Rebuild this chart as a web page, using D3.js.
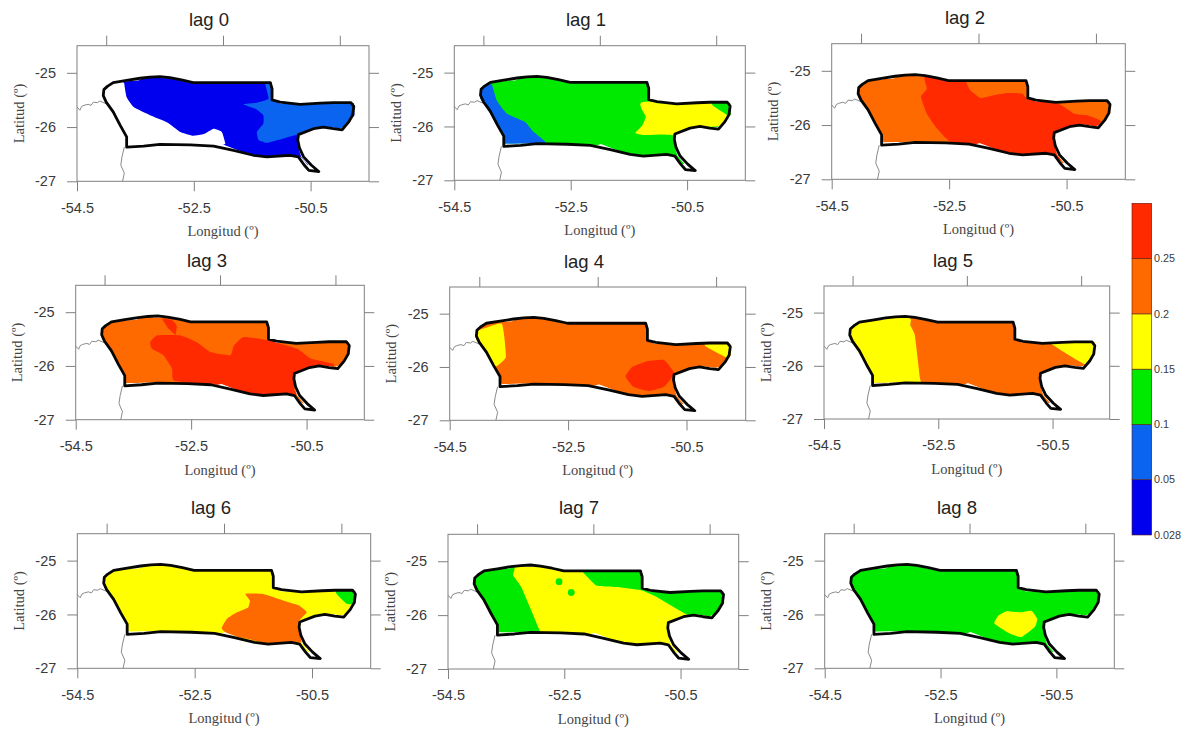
<!DOCTYPE html>
<html>
<head>
<meta charset="utf-8">
<script src="https://cdn.jsdelivr.net/npm/d3@7"></script>
<style>
  body { margin: 0; background: #fff; }
  svg { display: block; }
</style>
</head>
<body>
<div id="chart"></div>
<script>
// tick values
const lonTicks = [-54.5, -52.5, -50.5];
const lonTopTicks = [-54, -52, -50];
const latTicks = [-25, -26, -27];
const lags = ["lag 0", "lag 1", "lag 2", "lag 3", "lag 4", "lag 5", "lag 6", "lag 7", "lag 8"];

// colour classes
const breaks = [0.05, 0.1, 0.15, 0.2, 0.25];
const legendLabels = ["0.028", "0.05", "0.1", "0.15", "0.2", "0.25", ""];
const bandColors = ["#0000ee", "#0a64f0", "#00ea00", "#ffff00", "#ff6a00", "#ff2a00"];

// study area outline, lon / lat
const outline = [[-54.04,-25.31],[-53.98,-25.25],[-53.88,-25.18],[-53.65,-25.14],[-53.42,-25.10],[-53.25,-25.08],[-53.08,-25.07],[-52.91,-25.09],[-52.71,-25.13],[-52.51,-25.18],[-51.65,-25.18],[-51.19,-25.18],[-51.16,-25.29],[-51.16,-25.50],[-51.02,-25.54],[-50.68,-25.58],[-50.33,-25.56],[-50.11,-25.55],[-49.81,-25.55],[-49.76,-25.62],[-49.78,-25.78],[-49.85,-25.91],[-49.96,-26.05],[-50.11,-26.03],[-50.28,-26.00],[-50.45,-26.03],[-50.71,-26.14],[-50.72,-26.24],[-50.69,-26.39],[-50.62,-26.55],[-50.49,-26.70],[-50.36,-26.82],[-50.53,-26.80],[-50.61,-26.70],[-50.71,-26.55],[-50.85,-26.52],[-51.25,-26.55],[-51.48,-26.52],[-51.82,-26.43],[-52.16,-26.35],[-52.56,-26.33],[-53.08,-26.32],[-53.36,-26.35],[-53.65,-26.37],[-53.65,-26.18],[-53.76,-25.97],[-53.88,-25.72],[-54.00,-25.54],[-54.05,-25.42]];

// area the interpolated surface actually covers
const surface = [[-54.05,-25.33],[-53.92,-25.19],[-53.60,-25.15],[-53.45,-25.14],[-53.35,-25.09],[-52.88,-25.10],[-52.59,-25.18],[-51.17,-25.18],[-51.17,-25.48],[-51.03,-25.57],[-50.09,-25.56],[-49.76,-25.56],[-49.75,-25.78],[-49.91,-25.98],[-50.00,-26.02],[-50.20,-25.99],[-50.49,-26.03],[-50.69,-26.13],[-50.71,-26.38],[-50.66,-26.55],[-50.54,-26.70],[-50.58,-26.70],[-50.71,-26.53],[-51.24,-26.55],[-51.58,-26.49],[-51.64,-26.47],[-51.98,-26.33],[-52.04,-26.35],[-52.56,-26.33],[-53.11,-26.31],[-53.63,-26.32],[-53.64,-26.16],[-53.78,-25.95],[-53.95,-25.64],[-54.05,-25.49]];

// thin grey state borders
const borderWest = [[-54.5,-25.63],[-54.45,-25.69],[-54.42,-25.62],[-54.38,-25.60],[-54.31,-25.58],[-54.26,-25.60],[-54.22,-25.54],[-54.15,-25.55],[-54.11,-25.52],[-54.0,-25.57]];
const borderSouth = [[-53.69,-26.37],[-53.73,-26.55],[-53.75,-26.70],[-53.69,-26.85],[-53.72,-27]];

// class polygons per lag: [value, points]
const lag0Base = null;
const lag0Regions = [
  [0.04, [[-53.69,-25.20],[-53.65,-25.45],[-53.53,-25.63],[-53.25,-25.78],[-52.96,-25.91],[-52.73,-26.09],[-52.51,-26.16],[-52.33,-26.13],[-52.16,-26.03],[-52.02,-26.09],[-51.96,-26.30],[-51.99,-26.33],[-51.76,-26.43],[-51.53,-26.49],[-51.25,-26.58],[-50.68,-26.55],[-50.45,-26.79],[-49.65,-26.73],[-49.65,-25.08],[-53.69,-24.90]]],
  [0.07, [[-51.28,-25.14],[-51.28,-25.20],[-51.22,-25.48],[-51.42,-25.55],[-51.65,-25.58],[-51.56,-25.62],[-51.45,-25.66],[-51.31,-25.78],[-51.31,-25.94],[-51.42,-26.09],[-51.39,-26.24],[-51.25,-26.29],[-50.96,-26.21],[-50.73,-26.15],[-49.65,-26.24],[-49.65,-25.20],[-51.08,-25.14]]]
];
const lag1Base = 0.12;
const lag1Regions = [
  [0.07, [[-54.00,-25.27],[-53.86,-25.21],[-53.77,-25.52],[-53.60,-25.76],[-53.28,-25.92],[-53.14,-26.10],[-52.93,-26.30],[-53.14,-26.38],[-53.71,-26.38],[-54.11,-25.52],[-54.11,-25.27]]],
  [0.17, [[-51.27,-25.55],[-51.21,-25.82],[-51.27,-25.98],[-51.39,-26.12],[-51.24,-26.16],[-50.95,-26.15],[-50.72,-26.16],[-50.43,-26.04],[-49.68,-25.95],[-49.68,-25.52]]],
  [0.12, [[-50.06,-25.61],[-49.80,-25.79],[-49.68,-25.79],[-49.68,-25.52],[-50.06,-25.52]]]
];
const lag2Base = 0.22;
const lag2Regions = [
  [0.27, [[-52.91,-25.09],[-52.88,-25.33],[-52.98,-25.48],[-52.88,-25.79],[-52.71,-26.06],[-52.48,-26.31],[-51.97,-26.46],[-50.72,-26.65],[-50.60,-26.65],[-50.69,-26.16],[-50.03,-26.06],[-49.92,-25.92],[-50.15,-25.82],[-50.37,-25.79],[-50.63,-25.61],[-51.14,-25.54],[-51.26,-25.42],[-51.51,-25.41],[-51.74,-25.45],[-51.97,-25.50],[-52.14,-25.36],[-52.22,-25.18],[-52.22,-25.09]]]
];
const lag3Base = 0.22;
const lag3Regions = [
  [0.27, [[-53.21,-25.56],[-53.09,-25.43],[-52.69,-25.43],[-52.40,-25.56],[-52.17,-25.74],[-51.82,-25.80],[-51.76,-25.62],[-51.59,-25.46],[-51.18,-25.52],[-50.66,-25.68],[-50.43,-25.86],[-50.03,-25.96],[-50.08,-26.06],[-50.69,-26.14],[-50.72,-26.42],[-50.69,-26.54],[-51.18,-26.60],[-51.76,-26.48],[-52.22,-26.36],[-52.80,-26.27],[-52.83,-26.05],[-52.98,-25.80],[-53.18,-25.68]]],
  [0.27, [[-53.00,-25.12],[-52.83,-25.15],[-52.75,-25.25],[-52.77,-25.42],[-52.89,-25.31]]]
];
const lag4Base = 0.22;
const lag4Regions = [
  [0.17, [[-54.01,-25.31],[-53.62,-25.19],[-53.55,-25.81],[-53.70,-25.98],[-53.87,-25.97],[-54.10,-25.47],[-54.10,-25.22]]],
  [0.17, [[-50.18,-25.61],[-49.81,-25.83],[-49.70,-25.84],[-49.70,-25.53],[-50.18,-25.53]]],
  [0.27, [[-51.53,-26.18],[-51.42,-26.00],[-51.19,-25.90],[-50.88,-25.87],[-50.71,-26.12],[-50.88,-26.37],[-51.14,-26.45],[-51.40,-26.37]]]
];
const lag5Base = 0.22;
const lag5Regions = [
  [0.17, [[-53.02,-25.09],[-52.99,-25.24],[-52.91,-25.43],[-52.82,-26.24],[-52.82,-26.36],[-53.75,-26.43],[-54.16,-25.55],[-54.10,-25.12]]],
  [0.17, [[-50.52,-25.59],[-49.96,-25.96],[-49.73,-25.93],[-49.73,-25.49],[-50.52,-25.49]]]
];
const lag6Base = 0.17;
const lag6Regions = [
  [0.22, [[-51.64,-25.62],[-51.56,-25.61],[-51.33,-25.62],[-50.99,-25.74],[-50.73,-25.83],[-50.59,-25.96],[-50.73,-26.14],[-50.68,-26.51],[-50.87,-26.54],[-51.27,-26.54],[-51.61,-26.45],[-51.90,-26.39],[-52.04,-26.26],[-51.95,-26.08],[-51.78,-25.96],[-51.59,-25.87],[-51.56,-25.74]]],
  [0.12, [[-50.08,-25.62],[-49.91,-25.80],[-49.68,-25.80],[-49.68,-25.56],[-50.08,-25.56]]]
];
const lag7Base = 0.17;
const lag7Regions = [
  [0.12, [[-53.37,-25.08],[-53.38,-25.26],[-53.24,-25.48],[-52.95,-26.22],[-52.95,-26.34],[-53.78,-26.46],[-54.12,-25.54],[-54.12,-25.17]]],
  [0.12, [[-52.18,-25.20],[-51.95,-25.45],[-51.60,-25.48],[-51.18,-25.54],[-50.92,-25.66],[-50.57,-25.88],[-50.37,-26.00],[-50.17,-26.10],[-49.72,-26.10],[-49.72,-25.48],[-51.18,-25.11],[-52.18,-25.11]]]
];
const lag7Spots = [[-52.59,-25.38],[-52.38,-25.58]];
const lag8Base = 0.12;
const lag8Regions = [
  [0.17, [[-51.57,-26.17],[-51.50,-26.02],[-51.36,-25.94],[-51.13,-25.96],[-50.93,-25.93],[-50.83,-26.08],[-50.87,-26.23],[-51.10,-26.42],[-51.30,-26.36]]]
];

const bases = [lag0Base, lag1Base, lag2Base, lag3Base, lag4Base, lag5Base, lag6Base, lag7Base, lag8Base];
const regions = [lag0Regions, lag1Regions, lag2Regions, lag3Regions, lag4Regions, lag5Regions, lag6Regions, lag7Regions, lag8Regions];
const spots = [[], [], [], [], [], [], [], lag7Spots, []];

// panel frames in the page: left, right, top, bottom, then title centre
const frames = [
  [77, 369, 45.7, 181.3, 209, 20],
  [454.3, 745.3, 45.7, 180.3, 586, 20],
  [831.7, 1125.3, 43.7, 179.3, 965, 18],
  [75.7, 364.3, 285.3, 419.7, 207, 261],
  [449.7, 745.7, 287, 420.3, 584, 262],
  [824, 1109.7, 286, 419, 953, 261],
  [77.3, 370.7, 533.7, 668.3, 211, 508],
  [448, 738.7, 534.3, 669, 579, 508],
  [824.7, 1114.3, 533.7, 668.3, 957, 508]
];

const sans = "'Liberation Sans', Arial, sans-serif";
const serif = "'Liberation Serif', 'Times New Roman', serif";

const svg = d3.select("#chart")
  .append("svg")
    .attr("width", 1187)
    .attr("height", 731);

const color = d3.scaleThreshold().domain(breaks).range(bandColors);

frames.forEach(function(f, i) {
  const [left, right, top, bottom, titleX, titleY] = f;

  const x = d3.scaleLinear().domain([-54.5, -49.5]).range([left, right]);
  const y = d3.scaleLinear().domain([-27, -24.5]).range([bottom, top]);

  const g = svg.append("g");

  // clip everything to the surface
  g.append("clipPath")
    .attr("id", "surface-" + i)
    .append("path")
      .attr("d", d3.line().x(d => x(d[0])).y(d => y(d[1])).curve(d3.curveLinearClosed)(surface));

  const surf = g.append("g").attr("clip-path", `url(#surface-${i})`);

  if (bases[i] !== null) {
    surf.append("path")
      .attr("d", d3.line().x(d => x(d[0])).y(d => y(d[1])).curve(d3.curveLinearClosed)(surface))
      .attr("fill", color(bases[i]));
  }

  const blob = d3.line().x(d => x(d[0])).y(d => y(d[1])).curve(d3.curveCardinalClosed.tension(0.6));
  surf.selectAll(".region")
    .data(regions[i])
    .join("path")
      .attr("class", "region")
      .attr("fill", d => color(d[0]))
      .attr("d", d => blob(d[1]));

  surf.selectAll(".spot")
    .data(spots[i])
    .join("circle")
      .attr("class", "spot")
      .attr("cx", d => x(d[0]))
      .attr("cy", d => y(d[1]))
      .attr("r", 3.4)
      .attr("fill", color(0.12));

  // state borders
  const thin = d3.line().x(d => x(d[0])).y(d => y(d[1]));
  g.selectAll(".border")
    .data([borderWest, borderSouth])
    .join("path")
      .attr("class", "border")
      .attr("fill", "none")
      .attr("stroke", "#8a8a8a")
      .attr("stroke-width", 1)
      .attr("d", thin);

  // study area
  g.append("path")
    .attr("d", d3.line().x(d => x(d[0])).y(d => y(d[1])).curve(d3.curveLinearClosed)(outline))
    .attr("fill", "none")
    .attr("stroke", "#060606")
    .attr("stroke-width", 2.8)
    .attr("stroke-linejoin", "round");

  // frame
  g.append("rect")
    .attr("x", left)
    .attr("y", top)
    .attr("width", right - left)
    .attr("height", bottom - top)
    .attr("fill", "none")
    .attr("stroke", "#808080")
    .attr("stroke-width", 1);

  // axes
  const addAxis = function(axis, tx, ty, labelled) {
    const a = g.append("g")
      .attr("transform", `translate(${tx}, ${ty})`)
      .call(axis.tickSize(10).tickSizeOuter(0).tickPadding(labelled ? 11 : 0));
    a.select(".domain").remove();
    a.selectAll("line").attr("stroke", "#808080");
    a.selectAll("text")
      .attr("fill", "#3a3a3a")
      .style("font-family", sans)
      .style("font-size", "14.5px");
    return a;
  };
  addAxis(d3.axisBottom(x).tickValues(lonTicks).tickFormat(d => d), 0, bottom, true);
  addAxis(d3.axisLeft(y).tickValues(latTicks).tickFormat(d => d), left, 0, true);
  addAxis(d3.axisTop(x).tickValues(lonTopTicks).tickFormat(""), 0, top, false);
  addAxis(d3.axisRight(y).tickValues(latTicks).tickFormat(""), right, 0, false);

  // titles
  g.append("text")
    .attr("x", titleX)
    .attr("y", titleY)
    .attr("dy", "0.35em")
    .attr("text-anchor", "middle")
    .attr("fill", "#222")
    .style("font-family", sans)
    .style("font-size", "18.5px")
    .text(lags[i]);

  g.append("text")
    .attr("x", (left + right) / 2)
    .attr("y", bottom + 50)
    .attr("dy", "0.35em")
    .attr("text-anchor", "middle")
    .attr("fill", "#444")
    .style("font-family", serif)
    .style("font-size", "14.5px")
    .text("Longitud (º)");

  g.append("text")
    .attr("transform", `translate(${left - 58.5}, ${(top + bottom) / 2}) rotate(-90)`)
    .attr("dy", "0.35em")
    .attr("text-anchor", "middle")
    .attr("fill", "#444")
    .style("font-family", serif)
    .style("font-size", "14.5px")
    .text("Latitud (º)");
});

// colour bar
const legendY = d3.scalePoint().domain(legendLabels).range([535, 203.3]);
const legend = svg.append("g");

legend.selectAll("rect")
  .data(bandColors)
  .join("rect")
    .attr("x", 1132)
    .attr("width", 19.7)
    .attr("y", (d, i) => legendY(legendLabels[i + 1]))
    .attr("height", (d, i) => legendY(legendLabels[i]) - legendY(legendLabels[i + 1]))
    .attr("fill", d => d)
    .attr("stroke", "#5a1a10")
    .attr("stroke-width", 0.6);

legend.selectAll("text")
  .data(legendLabels.filter(d => d !== ""))
  .join("text")
    .attr("x", 1154)
    .attr("y", d => legendY(d))
    .attr("dy", "0.35em")
    .attr("fill", "#3a3a3a")
    .style("font-family", sans)
    .style("font-size", "10.8px")
    .text(d => d);
</script>
</body>
</html>
